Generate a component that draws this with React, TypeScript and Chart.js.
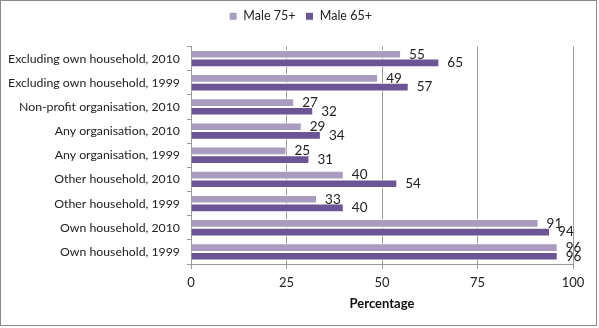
import React, { useEffect, useRef } from "react";
import { Chart, registerables } from "chart.js";

Chart.register(...registerables);

const categories = [
  "Excluding own household, 2010",
  "Excluding own household, 1999",
  "Non-profit organisation, 2010",
  "Any organisation, 2010",
  "Any organisation, 1999",
  "Other household, 2010",
  "Other household, 1999",
  "Own household, 2010",
  "Own household, 1999",
];
const male75 = [55, 49, 27, 29, 25, 40, 33, 91, 96];
const male65 = [65, 57, 32, 34, 31, 54, 40, 94, 96];
const xTicks = [0, 25, 50, 75, 100];

const FONT = "Lato, 'Open Sans', sans-serif";
const LIGHT = "#A99CC0";
const DARK = "#6C5594";
const GRID = "#9A9A9A";

export default function App() {
  const ref = useRef<HTMLCanvasElement | null>(null);
  useEffect(() => {
    if (!ref.current) return;
    const borderPlugin = {
      id: "frame",
      afterDraw(chart: any) {
        const ctx = chart.ctx;
        ctx.save();
        ctx.strokeStyle = "#888888";
        ctx.lineWidth = 1;
        ctx.strokeRect(0.5, 0.5, 596, 325);
        ctx.restore();
      },
    };
    const legendSpace = {
      id: "legendSpace",
      beforeInit(chart: any) {
        const lg = chart.legend;
        if (lg) {
          const orig = lg.fit;
          lg.fit = function () {
            orig.call(lg);
            lg.height += 14;
          };
        }
      },
      afterLayout(chart: any) {
        const lg = chart.legend;
        if (lg) {
          lg.left += 14;
          lg.right += 14;
        }
      },
    };
    const labelPlugin = {
      id: "valueLabels",
      afterDatasetsDraw(chart: any) {
        const ctx = chart.ctx;
        ctx.save();
        ctx.font = `13.5px ${FONT}`;
        ctx.fillStyle = "#222";
        ctx.textBaseline = "middle";
        ctx.textAlign = "left";
        chart.data.datasets.forEach((ds: any, di: number) => {
          const meta = chart.getDatasetMeta(di);
          meta.data.forEach((bar: any, i: number) => {
            ctx.fillText(String(ds.data[i]), bar.x + 8, bar.y);
          });
        });
        ctx.restore();
      },
    };
    const chart = new Chart(ref.current, {
      type: "bar",
      data: {
        labels: categories,
        datasets: [
          {
            label: "Male 75+",
            data: male75,
            backgroundColor: LIGHT,
            borderColor: "#ffffff",
            borderWidth: 1,
            categoryPercentage: 0.72,
            barPercentage: 1,
          },
          {
            label: "Male 65+",
            data: male65,
            backgroundColor: DARK,
            borderColor: "#ffffff",
            borderWidth: 1,
            categoryPercentage: 0.72,
            barPercentage: 1,
          },
        ],
      },
      options: {
        indexAxis: "y",
        responsive: false,
        animation: false,
        maintainAspectRatio: false,
        layout: { padding: { left: 0, right: 26, top: 0, bottom: 0 } },
        plugins: {
          legend: {
            position: "top",
            labels: {
              boxWidth: 8,
              boxHeight: 8,
              padding: 10,
              color: "#222",
              font: { family: FONT, size: 12.5 },
            },
          },
          tooltip: { enabled: false },
        },
        scales: {
          x: {
            min: 0,
            max: 100,
            afterBuildTicks: (s: any) => {
              s.ticks = xTicks.map((v) => ({ value: v }));
            },
            afterFit: (s: any) => {
              s.height = 64;
            },
            grid: {
              color: (c: any) => (c.tick && c.tick.value === 0 ? "rgba(0,0,0,0)" : GRID),
              tickColor: GRID,
              tickLength: 5,
            },
            border: { display: true, color: GRID },
            ticks: {
              color: "#222",
              padding: 6,
              font: { family: FONT, size: 13 },
            },
            title: {
              display: true,
              text: "Percentage",
              color: "#111",
              font: { family: FONT, size: 13, weight: "bold" },
              padding: { top: 4, bottom: 16 },
            },
          },
          y: {
            afterFit: (s: any) => {
              s.width = 191;
            },
            grid: {
              drawOnChartArea: false,
              color: GRID,
              tickLength: 4,
              offset: true,
            },
            border: { display: true, color: GRID },
            ticks: {
              color: "#222",
              padding: 7,
              font: { family: FONT, size: 12.3 },
            },
          },
        },
      },
      plugins: [legendSpace, labelPlugin, borderPlugin],
    } as any);
    return () => chart.destroy();
  }, []);
  return (
    <div style={{ position: "absolute", left: 0, top: 0, width: 599, height: 328, background: "#fff" }}>
      <canvas ref={ref} width={599} height={328} style={{ display: "block" }} />
    </div>
  );
}
